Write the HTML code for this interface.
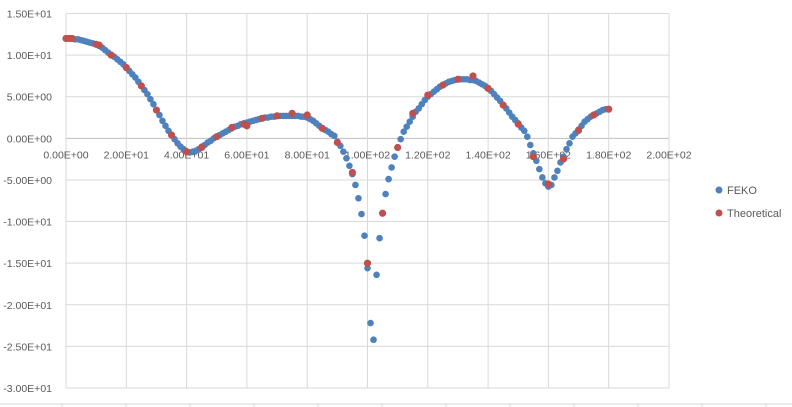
<!DOCTYPE html>
<html><head><meta charset="utf-8"><style>
html,body{margin:0;padding:0;background:#fff;}
svg{display:block;font-family:"Liberation Sans",sans-serif;}
</style></head><body>
<svg id="chart" width="792" height="407" viewBox="0 0 792 407">
<rect x="0" y="0" width="792" height="407" fill="#fff"/>
<g id="grid"></g>
<g id="labels"></g>
<g id="feko"></g>
<g id="theo"></g>
<g id="bottomstrip">
<line x1="0" x2="792" y1="404" y2="404" stroke="#d9d9d9" stroke-width="1"/>
</g>
<g>
<circle cx="719" cy="190" r="3.5" fill="#4F81BD"/>
<text x="727" y="194" font-size="11" fill="#595959">FEKO</text>
<circle cx="719" cy="213" r="3.5" fill="#C0504D"/>
<text x="727" y="217" font-size="11" fill="#595959">Theoretical</text>
</g>
</svg>
<script>
const xTicks=[0,20,40,60,80,100,120,140,160,180,200];
const xTickLabels=["0.00E+00","2.00E+01","4.00E+01","6.00E+01","8.00E+01","1.00E+02","1.20E+02","1.40E+02","1.60E+02","1.80E+02","2.00E+02"];
const yTicks=[15,10,5,0,-5,-10,-15,-20,-25,-30];
const yTickLabels=["1.50E+01","1.00E+01","5.00E+00","0.00E+00","-5.00E+00","-1.00E+01","-1.50E+01","-2.00E+01","-2.50E+01","-3.00E+01"];
const fekoValues=[12.0,12.0,12.0,11.9,11.9,11.8,11.7,11.6,11.5,11.4,11.3,
11.1,10.9,10.6,10.3,10.0,9.8,9.5,9.2,8.9,8.5,
8.1,7.7,7.3,6.8,6.3,5.8,5.3,4.7,4.1,3.4,
2.8,2.1,1.5,0.9,0.4,-0.1,-0.6,-1.0,-1.3,-1.6,
-1.7,-1.6,-1.5,-1.3,-1.0,-0.8,-0.5,-0.3,0.0,0.2,
0.4,0.6,0.8,1.0,1.2,1.4,1.5,1.7,1.8,1.9,
2.0,2.1,2.2,2.3,2.4,2.5,2.5,2.6,2.6,2.7,
2.7,2.7,2.7,2.7,2.7,2.7,2.7,2.6,2.6,2.5,
2.3,2.1,1.8,1.5,1.2,1.0,0.8,0.5,0.3,-0.4,
-0.9,-1.6,-2.4,-3.3,-4.3,-5.6,-7.2,-9.1,-11.7,-15.6,
-22.2,-24.2,-16.4,-12.0,-9.0,-6.7,-4.9,-3.5,-2.2,-1.1,
-0.1,0.8,1.4,2.0,2.6,3.2,3.6,4.1,4.6,5.0,
5.3,5.6,5.9,6.2,6.4,6.6,6.8,6.9,7.0,7.1,
7.1,7.1,7.1,7.0,7.0,6.9,6.7,6.5,6.3,6.0,
5.7,5.3,4.9,4.5,4.0,3.6,3.1,2.6,2.2,1.8,
1.3,0.9,0.2,-0.8,-1.8,-2.7,-3.7,-4.7,-5.4,-5.8,
-5.6,-4.7,-3.9,-2.9,-2.2,-1.3,-0.6,0.2,0.6,0.9,
1.5,2.0,2.3,2.6,2.8,3.0,3.2,3.4,3.5,3.5];
const theoAngles=[0,1,2,10,11,15,20,25,30,35,40,45,50,55,59,60,65,70,75,80,85,90,95,100,105,110,115,120,125,130,135,140,145,150,155,160,165,170,175,180];
const theoValues=[12.0,12.0,12.0,11.3,11.2,10.0,8.5,6.3,3.4,0.4,-1.6,-1.1,0.2,1.3,1.7,1.5,2.4,2.7,3.0,2.8,1.2,-0.5,-4.1,-15.0,-9.0,-1.1,3.0,5.2,6.4,7.1,7.5,6.0,4.0,1.7,-2.2,-5.5,-2.5,1.0,2.8,3.5];

const NS="http://www.w3.org/2000/svg";
const X0=66, X1=669, Y15=13.5, Y30=388;
function xs(v){return X0+(v-0)/200*(X1-X0);}
function ys(v){return Y15+(15-v)/45*(Y30-Y15);}
function mk(tag,attrs,parent){const e=document.createElementNS(NS,tag);for(const k in attrs)e.setAttribute(k,attrs[k]);parent.appendChild(e);return e;}
const grid=document.getElementById('grid'), labels=document.getElementById('labels');
yTicks.forEach((t,i)=>{
  const l=mk('line',{x1:X0,x2:X1,y1:ys(t),y2:ys(t),stroke:t===0?'#bfbfbf':'#d9d9d9','stroke-width':1},grid);
  
  
  const tx=mk('text',{x:52,y:ys(t)+4,'text-anchor':'end','font-size':10.5,fill:'#595959'},labels);
  tx.textContent=yTickLabels[i];
  
  
});
xTicks.forEach((t,i)=>{
  const l=mk('line',{x1:xs(t),x2:xs(t),y1:Y15,y2:Y30,stroke:'#d9d9d9','stroke-width':1},grid);
  
  
  const tx=mk('text',{x:xs(t),y:ys(0)+20,'text-anchor':'middle','font-size':10.5,fill:'#595959'},labels);
  tx.textContent=xTickLabels[i];
  
  
});
const strip=document.getElementById('bottomstrip');
for(let k=0;k<13;k++){
  const l=mk('line',{x1:62+64*k,x2:62+64*k,y1:404,y2:407,stroke:'#d9d9d9','stroke-width':1},strip);
  
  
}
const feko=document.getElementById('feko');
fekoValues.forEach((v,i)=>{
  const c=mk('circle',{cx:xs(i),cy:ys(v),r:3.3,fill:'#4F81BD'},feko);
  
  
});
const theo=document.getElementById('theo');
theoValues.forEach((v,i)=>{
  const c=mk('circle',{cx:xs(theoAngles[i]),cy:ys(v),r:3.6,fill:'#C0504D'},theo);
  
  
});
</script>
</body></html>
